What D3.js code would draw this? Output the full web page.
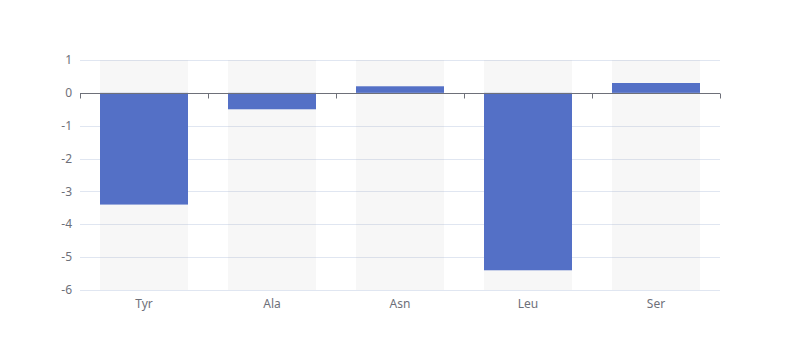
<!DOCTYPE html>
<html><head><meta charset="utf-8">
<script src="https://cdn.jsdelivr.net/npm/d3@7"></script>
<style>body{margin:0;background:#fff}svg{display:block}</style>
</head><body><svg id="c" width="800" height="360"></svg>
<script>
const categories = ["Tyr", "Ala", "Asn", "Leu", "Ser"];
const values = [-3.4, -0.5, 0.2, -5.4, 0.3];
const yTicks = [1, 0, -1, -2, -3, -4, -5, -6];

const W = 800, H = 360, L = 80, R = 720, T = 60, B = 290;
const svg = d3.select("#c");
const font = "'Microsoft YaHei', 'Noto Sans', sans-serif";

const x = d3.scaleBand().domain(categories).range([L, R]).paddingInner(0).paddingOuter(0);
const y = d3.scaleLinear().domain([-6, 1]).range([B, T]);
const bw = x.bandwidth() * 0.6875;

// grid lines
svg.append("g").selectAll("line").data(yTicks.filter(d => d !== 0)).join("line")
  .attr("x1", L).attr("x2", R)
  .attr("y1", d => Math.round(y(d)) + 0.5).attr("y2", d => Math.round(y(d)) + 0.5)
  .attr("stroke", "#E0E6F1").attr("stroke-width", 1);

// background bars
svg.append("g").selectAll("rect").data(categories).join("rect")
  .attr("x", d => x(d) + (x.bandwidth() - bw) / 2).attr("width", bw)
  .attr("y", T).attr("height", B - T)
  .attr("fill", "rgba(180,180,180,0.1)");

// bars
svg.append("g").selectAll("rect").data(values).join("rect")
  .attr("x", (d, i) => x(categories[i]) + (x.bandwidth() - bw) / 2).attr("width", bw)
  .attr("y", d => y(Math.max(0, d))).attr("height", d => Math.abs(y(d) - y(0)))
  .attr("fill", "#5470C6");

// y axis labels
svg.append("g").selectAll("text").data(yTicks).join("text")
  .attr("x", 72).attr("y", d => y(d)).attr("dy", "0.35em")
  .attr("text-anchor", "end").attr("font-family", font).attr("font-size", 12)
  .attr("fill", "#6E7079").text(d => d);

// x axis at zero
const y0 = Math.round(y(0)) + 0.5;
const xAxis = svg.append("g");
xAxis.append("line").attr("x1", L).attr("x2", R).attr("y1", y0).attr("y2", y0)
  .attr("stroke", "#6E7079").attr("stroke-width", 1);
const bounds = categories.map(c => x(c)).concat([R]);
xAxis.selectAll("line.tick").data(bounds).join("line").attr("class", "tick")
  .attr("x1", d => Math.round(d) + 0.5).attr("x2", d => Math.round(d) + 0.5)
  .attr("y1", y0).attr("y2", y0 + 5)
  .attr("stroke", "#6E7079").attr("stroke-width", 1);

// bottom grid line for the axis bottom
// x labels
svg.append("g").selectAll("text").data(categories).join("text")
  .attr("x", d => x(d) + x.bandwidth() / 2).attr("y", B + 8).attr("dy", "0.8em")
  .attr("text-anchor", "middle").attr("font-family", font).attr("font-size", 12)
  .attr("fill", "#6E7079").text(d => d);
</script></body></html>
